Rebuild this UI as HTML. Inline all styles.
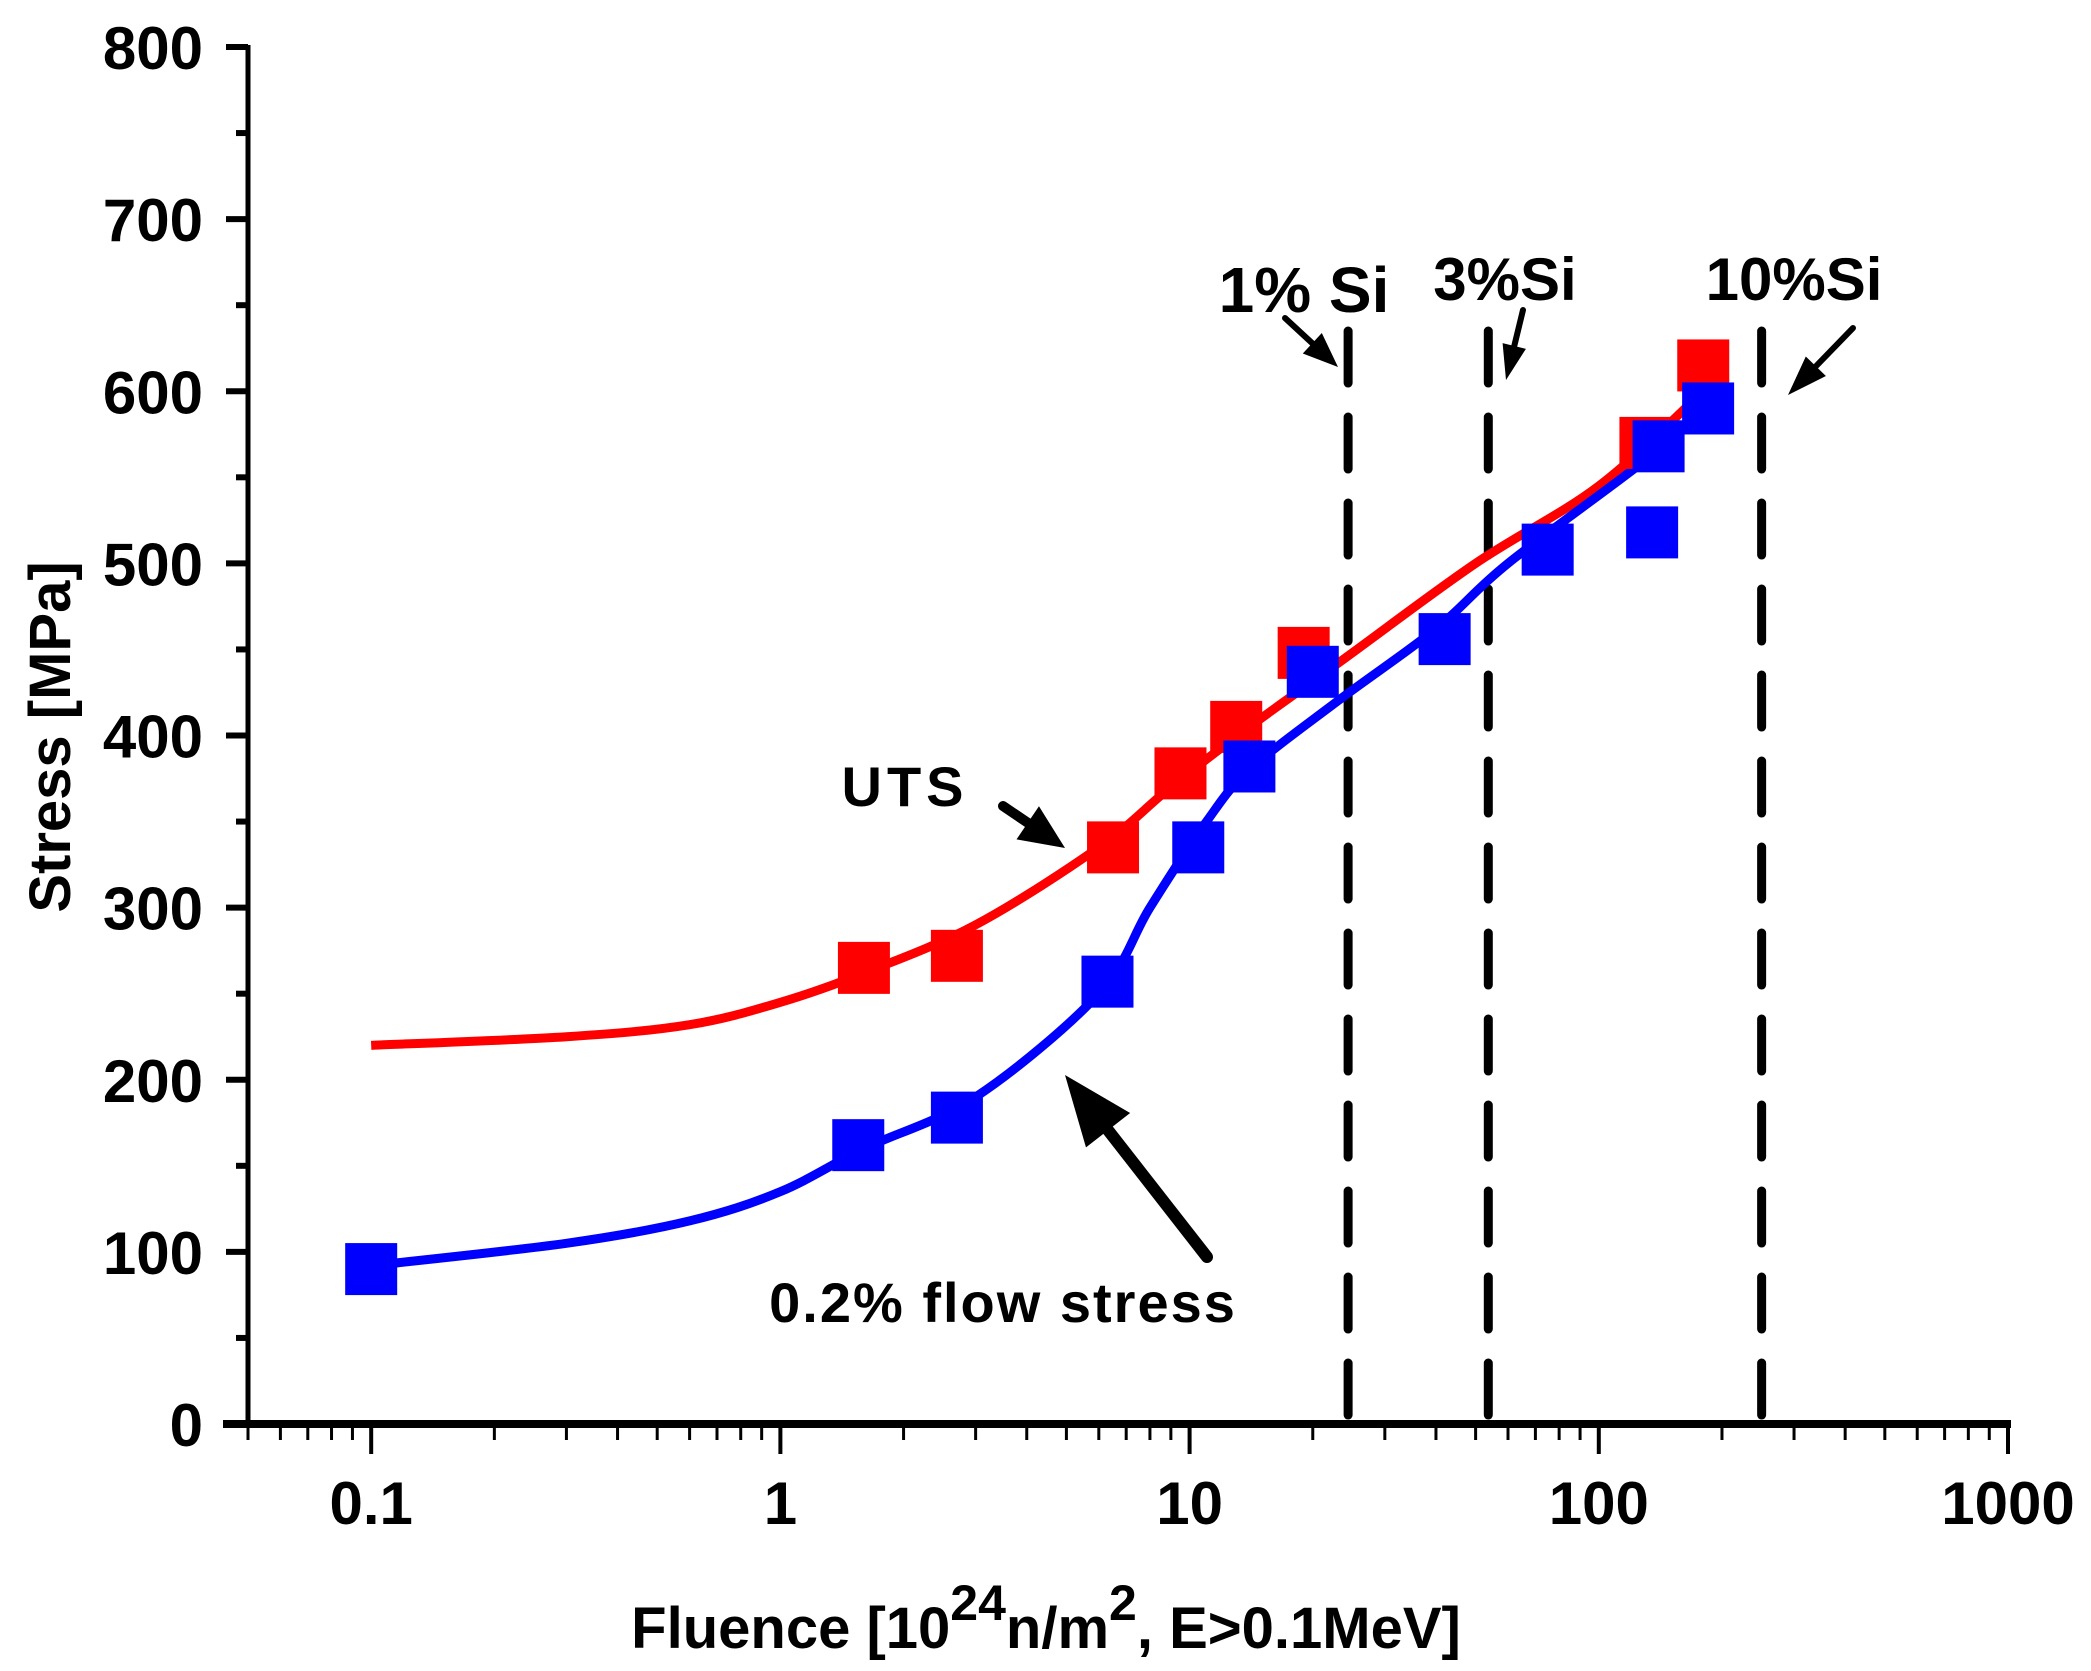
<!DOCTYPE html>
<html><head><meta charset="utf-8"><style>
html,body{margin:0;padding:0;background:#fff;}
svg{display:block;font-family:"Liberation Sans",Arial,sans-serif;font-weight:bold;}
</style></head><body>
<svg id="chart" width="2091" height="1671" viewBox="0 0 2091 1671" xmlns="http://www.w3.org/2000/svg">
<g id="axes"></g>
<g id="dashes"></g>
<g id="curves"></g>
<g id="marks"></g>
<g id="notes">
  <text x="905" y="806" font-size="56" text-anchor="middle" letter-spacing="5">UTS</text>
  <text x="1003" y="1322" font-size="56" text-anchor="middle" letter-spacing="2">0.2% flow stress</text>
  <text x="1304" y="312" font-size="64" text-anchor="middle">1% Si</text>
  <text x="1505" y="300" font-size="60" text-anchor="middle">3%Si</text>
  <text x="1794" y="300" font-size="60" text-anchor="middle">10%Si</text>
</g>
<text transform="translate(70,737) rotate(-90)" font-size="58" text-anchor="middle">Stress [MPa]</text>
<text x="1046" y="1648" font-size="58" text-anchor="middle">Fluence [10<tspan font-size="50" dy="-28">24</tspan><tspan dy="28">n/m</tspan><tspan font-size="50" dy="-28">2</tspan><tspan dy="28">, E&gt;0.1MeV]</tspan></text>
</svg>
<script>
const yTicks = [0,100,200,300,400,500,600,700,800];
const xTicks = [0.1,1,10,100,1000];
const xTickLabels = ["0.1","1","10","100","1000"];
const utsX = [1.6,2.7,6.5,9.5,13,19,130,180];
const utsY = [265,272,335,378,405,448,570,615];
const flowX = [0.1,1.55,2.7,6.3,10.5,14,20,42,75,135,140,185];
const flowY = [90,162,178,257,335,382,437,456,508,518,568,590];
const utsFitX = [0.1,0.3,0.6,1,1.6,3,6,9,14,24,50,100,180];
const utsFitY = [220,225,232,245,262,290,335,370,405,445,500,545,600];
const flowFitX = [0.1,0.3,0.6,1,1.6,3,6,8,11,14,23,40,60,130,180];
const flowFitY = [92,105,118,135,160,190,250,300,350,380,420,462,500,560,590];
const siX = [24.4,53.7,250];

const NS="http://www.w3.org/2000/svg";
const X0=248,X1=2008,Y0=1424,Y1=47;
const lmin=Math.log10(0.05),lmax=3;
const xs=v=>X0+(Math.log10(v)-lmin)/(lmax-lmin)*(X1-X0);
const ys=v=>Y0-(v/800)*(Y0-Y1);
function mk(tag,parent,attrs){const e=document.createElementNS(NS,tag);for(const k in attrs)e.setAttribute(k,attrs[k]);parent.appendChild(e);return e;}

const ax=document.getElementById('axes');
let l=mk('line',ax,{x1:X0,y1:Y1-2,x2:X0,y2:Y0,stroke:'#000','stroke-width':5});


l=mk('line',ax,{x1:X0-25,y1:Y0,x2:X1+3,y2:Y0,stroke:'#000','stroke-width':8});


yTicks.forEach(v=>{
  const t=mk('line',ax,{x1:X0-22,y1:ys(v),x2:X0,y2:ys(v),stroke:'#000','stroke-width':6});
  
  
  const tx=mk('text',ax,{x:X0-45,y:ys(v)+22,'font-size':60,'text-anchor':'end'});
  tx.textContent=v;
  
  
  if(v<800){const m=mk('line',ax,{x1:X0-12,y1:ys(v+50),x2:X0,y2:ys(v+50),stroke:'#000','stroke-width':6});
  
  }
});
xTicks.forEach((v,i)=>{
  const t=mk('line',ax,{x1:xs(v),y1:Y0,x2:xs(v),y2:Y0+30,stroke:'#000','stroke-width':4});
  
  
  const tx=mk('text',ax,{x:xs(v),y:Y0+100,'font-size':60,'text-anchor':'middle'});
  tx.textContent=xTickLabels[i];
  
  
});
for(let d=0.01;d<1000;d*=10){for(let k=2;k<10;k++){const v=d*k;if(v<0.05||v>1000)continue;
  const m=mk('line',ax,{x1:xs(v),y1:Y0,x2:xs(v),y2:Y0+16,stroke:'#000','stroke-width':3});
  
  }}

const dg=document.getElementById('dashes');
siX.forEach(v=>{
  const d=mk('line',dg,{x1:xs(v),y1:ys(635),x2:xs(v),y2:Y0,stroke:'#000','stroke-width':9,'stroke-dasharray':'52 34','stroke-linecap':'round'});
  
  
});

function curve(xa,ya,color,name){
  const p=xa.map((x,i)=>[xs(x),ys(ya[i])]);
  let s='M'+p[0][0]+','+p[0][1];
  for(let i=0;i<p.length-1;i++){
    const p0=p[Math.max(0,i-1)],p1=p[i],p2=p[i+1],p3=p[Math.min(p.length-1,i+2)];
    s+=` C${p1[0]+(p2[0]-p0[0])/6},${p1[1]+(p2[1]-p0[1])/6} ${p2[0]-(p3[0]-p1[0])/6},${p2[1]-(p3[1]-p1[1])/6} ${p2[0]},${p2[1]}`;
  }
  const e=mk('path',document.getElementById('curves'),{d:s,fill:'none',stroke:color,'stroke-width':9});
  
  
}
curve(utsFitX,utsFitY,'#ff0000','uts-fit-curve');
curve(flowFitX,flowFitY,'#0000ff','flow-stress-fit-curve');

const mg=document.getElementById('marks');
utsX.forEach((x,i)=>{const r=mk('rect',mg,{x:xs(x)-26,y:ys(utsY[i])-26,width:52,height:52,fill:'#ff0000'});
  
  });
flowX.forEach((x,i)=>{const r=mk('rect',mg,{x:xs(x)-26,y:ys(flowY[i])-26,width:52,height:52,fill:'#0000ff'});
  
  });

const ng=document.getElementById('notes');
function arrow(x1,y1,x2,y2,w,hl,hw,name){
  const a=Math.atan2(y2-y1,x2-x1),bx=x2-hl*Math.cos(a),by=y2-hl*Math.sin(a);
  const ln=mk('line',ng,{x1:x1,y1:y1,x2:bx,y2:by,stroke:'#000','stroke-width':w,'stroke-linecap':'round'});
  
  
  const px=-Math.sin(a)*hw,py=Math.cos(a)*hw;
  const h=mk('polygon',ng,{points:`${x2},${y2} ${bx+px},${by+py} ${bx-px},${by-py}`,fill:'#000'});
  
  
}
arrow(1003,806,1065,848,10,45,20,'uts-arrow');
arrow(1207,1257,1065,1075,12,70,28,'flow-stress-arrow');
arrow(1285,318,1338,367,6,35,14,'arrow-1pct-si');
arrow(1523,310,1506,380,6,35,12,'arrow-3pct-si');
arrow(1853,328,1788,395,6,40,14,'arrow-10pct-si');
</script>
</body></html>
